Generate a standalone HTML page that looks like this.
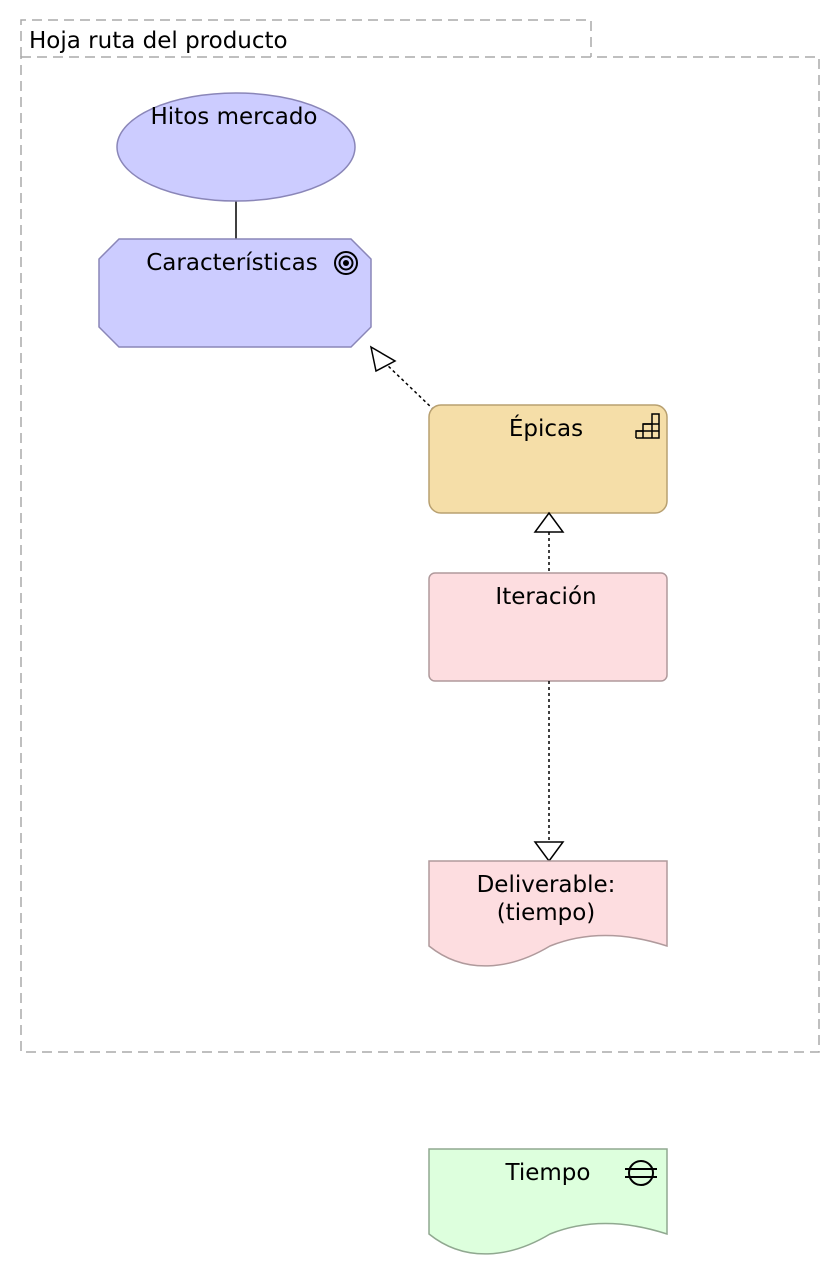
<!DOCTYPE html>
<html><head><meta charset="utf-8"><style>
html,body{margin:0;padding:0;background:#fff;}
svg{display:block;}
text{font-family:"DejaVu Sans","Liberation Sans",sans-serif;font-size:23px;fill:#000;}
</style></head><body>
<svg width="840" height="1278" viewBox="0 0 840 1278" xmlns="http://www.w3.org/2000/svg">
<g fill="none" stroke="#aaa" stroke-width="1.5" stroke-dasharray="10,6">
<path d="M21,57 V20 H591 V57"/>
<rect x="21" y="57" width="798" height="995"/>
</g>
<text x="29" y="48">Hoja ruta del producto</text>

<line x1="236" y1="201" x2="236" y2="239" stroke="#000" stroke-width="1.5"/>
<ellipse cx="236" cy="147" rx="119" ry="54" fill="#ccccff" stroke="#8a86b8" stroke-width="1.5"/>
<text x="234" y="124" text-anchor="middle">Hitos mercado</text>

<polygon points="119,239 351,239 371,259 371,327 351,347 119,347 99,327 99,259" fill="#ccccff" stroke="#8a86b8" stroke-width="1.5"/>
<text x="232" y="270" text-anchor="middle">Características</text>
<g fill="none" stroke="#000" stroke-width="2">
<circle cx="346" cy="263" r="11"/><circle cx="346" cy="263" r="6.5"/>
</g>
<circle cx="346" cy="263" r="3" fill="#000"/>

<line x1="434" y1="410" x2="385" y2="363" stroke="#000" stroke-width="1.5" stroke-dasharray="3,3"/>
<polygon points="371,347 395,361 376,371" fill="#fff" stroke="#000" stroke-width="1.5"/>

<rect x="429" y="405" width="238" height="108" rx="12" fill="#f5dea8" stroke="#b8a070" stroke-width="1.5"/>
<text x="546" y="436" text-anchor="middle">Épicas</text>
<g fill="none" stroke="#000" stroke-width="1.5">
<path d="M636,438 H659 V414 H652 V438 M636,438 V431 H659 M643,438 V424 H659 M652,424 V438"/>
<path d="M643,424 H652 M636,431 H643"/>
</g>

<line x1="549" y1="532" x2="549" y2="573" stroke="#000" stroke-width="1.5" stroke-dasharray="3,3"/>
<polygon points="549,513 563,532 535,532" fill="#fff" stroke="#000" stroke-width="1.5"/>

<rect x="429" y="573" width="238" height="108" rx="6" fill="#fddde0" stroke="#b09a9c" stroke-width="1.5"/>
<text x="546" y="604" text-anchor="middle">Iteración</text>

<line x1="549" y1="681" x2="549" y2="842" stroke="#000" stroke-width="1.5" stroke-dasharray="3,3"/>
<polygon points="549,861 563,842 535,842" fill="#fff" stroke="#000" stroke-width="1.5"/>

<path d="M429,861 H667 V946 C630,934 590,930 550,946 C510,970 465,975 429,946 Z" fill="#fddde0" stroke="#b09a9c" stroke-width="1.5"/>
<text x="546" y="892" text-anchor="middle">Deliverable:</text>
<text x="546" y="920" text-anchor="middle">(tiempo)</text>

<path d="M429,1149 H667 V1234 C630,1222 590,1218 550,1234 C510,1258 465,1263 429,1234 Z" fill="#ddffdd" stroke="#90a890" stroke-width="1.5"/>
<text x="548" y="1180" text-anchor="middle">Tiempo</text>
<g fill="none" stroke="#000" stroke-width="2">
<circle cx="641" cy="1173" r="12"/>
<line x1="625" y1="1169" x2="657" y2="1169"/>
<line x1="625" y1="1177" x2="657" y2="1177"/>
</g>
</svg>
</body></html>
